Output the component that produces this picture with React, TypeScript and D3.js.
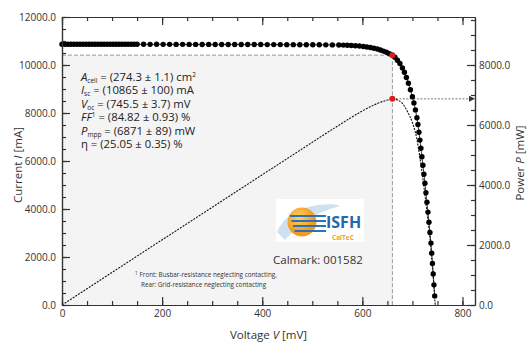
import { useEffect, useRef } from "react";
import * as d3 from "d3";

// IV curve measurement points (mV, mA)
const voltage = [
  0, 6, 12, 18, 24, 30, 36, 42, 48, 54, 60, 66, 72, 78, 84, 90, 96, 102, 108, 114, 120, 126, 132, 138, 144, 150,
  163, 176, 189, 202, 215, 228, 241, 254, 267, 280, 293, 306, 319, 332, 345, 358, 371, 384, 397, 410, 423, 436,
  449, 462, 475, 488, 501, 514, 527, 540, 553,
  562, 570, 578, 586, 594, 602, 609, 616, 623, 630, 636, 642, 648, 654, 660, 665, 670, 675, 680, 684, 688, 692,
  696, 700, 703, 706, 709, 711, 713, 715, 717, 719, 721, 723, 725, 727, 729, 731, 733, 735, 737, 738.5, 740,
  741.5, 743, 744.5,
];
const current = [
  10866, 10865, 10867, 10864, 10866, 10865, 10864, 10866, 10865, 10863, 10865, 10864, 10866, 10864, 10863, 10865,
  10864, 10862, 10864, 10863, 10865, 10863, 10862, 10864, 10862, 10863,
  10862, 10861, 10863, 10860, 10861, 10859, 10860, 10858, 10859, 10857, 10858, 10856, 10857, 10855, 10854, 10855,
  10853, 10852, 10853, 10850, 10851, 10849, 10848, 10847, 10846, 10844, 10843, 10841, 10839, 10837, 10834,
  10830, 10822, 10814, 10804, 10790, 10772, 10752, 10728, 10700, 10665, 10625, 10580, 10530, 10470, 10410, 10320,
  10200, 10060, 9880, 9700, 9480, 9240, 8970, 8680, 8420, 8130, 7800, 7520, 7200, 6870, 6530, 6180, 5820, 5450,
  5070, 4680, 4280, 3870, 3450, 3020, 2580, 2160, 1730, 1290, 840, 380,
];

// power curve (mV, mW)
const powerVoltage = [0, 150, 300, 450, 550, 600, 630, 650, 660, 670, 680, 690, 700, 708, 715, 722, 728, 734, 740, 745.5];
const power = [0, 1629, 3257, 4882, 5959, 6468, 6719, 6831, 6871, 6834, 6718, 6450, 6076, 5600, 4912, 4068, 3261, 2374, 1280, 0];

const mppVoltage = 660;
const mppCurrent = 10410;
const mppPower = 6871;

const voltageTicks = [0, 200, 400, 600, 800];
const currentTicks = [0, 2000, 4000, 6000, 8000, 10000, 12000];
const powerTicks = [0, 2000, 4000, 6000, 8000];

const FONT = "'Open Sans', sans-serif";

export default function App() {
  const svgRef = useRef<SVGSVGElement>(null);

  useEffect(() => {
    if (!svgRef.current) return;
    const width = 528;
    const height = 343;
    const margin = { top: 17, right: 53, bottom: 38, left: 62 };

    const svg = d3.select(svgRef.current);
    svg.selectAll("*").remove();

    const x = d3.scaleLinear().domain([0, 825]).range([margin.left, width - margin.right]);
    const yI = d3.scaleLinear().domain([0, 12000]).range([height - margin.bottom, margin.top]);
    const yP = d3.scaleLinear().domain([0, 9600]).range([height - margin.bottom, margin.top]);

    // shaded region up to MPP
    svg.append("rect")
      .attr("x", x(0))
      .attr("y", yI(mppCurrent))
      .attr("width", x(mppVoltage) - x(0))
      .attr("height", yI(0) - yI(mppCurrent))
      .attr("fill", "#f4f4f4");

    // logo background
    svg.append("rect")
      .attr("x", 276).attr("y", 199).attr("width", 88).attr("height", 43)
      .attr("fill", "#ffffff");

    // MPP guide lines
    svg.append("line")
      .attr("x1", x(0)).attr("x2", x(mppVoltage))
      .attr("y1", yI(mppCurrent)).attr("y2", yI(mppCurrent))
      .attr("stroke", "#9a9a9a").attr("stroke-dasharray", "4,2");
    svg.append("line")
      .attr("x1", x(mppVoltage)).attr("x2", x(mppVoltage))
      .attr("y1", yI(mppCurrent)).attr("y2", yI(0))
      .attr("stroke", "#9a9a9a").attr("stroke-dasharray", "4,2");
    svg.append("line")
      .attr("x1", x(mppVoltage)).attr("x2", x.range()[1] - 4)
      .attr("y1", yP(mppPower)).attr("y2", yP(mppPower))
      .attr("stroke", "#777").attr("stroke-dasharray", "2,1.5");
    const ay = yP(mppPower);
    const ax = x.range()[1];
    svg.append("path")
      .attr("d", `M${ax - 6},${ay - 3}L${ax},${ay}L${ax - 6},${ay + 3}Z`)
      .attr("fill", "#333");

    // power curve
    const powerLine = d3.line<number>()
      .x((d, i) => x(powerVoltage[i]))
      .y(d => yP(d))
      .curve(d3.curveMonotoneX);
    svg.append("path")
      .attr("d", powerLine(power))
      .attr("fill", "none")
      .attr("stroke", "#111")
      .attr("stroke-width", 1.1)
      .attr("stroke-dasharray", "2,1.2");

    // IV curve
    const ivLine = d3.line<number>()
      .x((d, i) => x(voltage[i]))
      .y(d => yI(d));
    svg.append("path")
      .attr("d", ivLine(current))
      .attr("fill", "none")
      .attr("stroke", "#111")
      .attr("stroke-width", 0.8);
    svg.append("g")
      .attr("fill", "#000")
      .selectAll("circle")
      .data(current)
      .join("circle")
      .attr("cx", (d, i) => x(voltage[i]))
      .attr("cy", d => yI(d))
      .attr("r", 2.7);

    // MPP markers
    svg.append("circle").attr("cx", x(mppVoltage)).attr("cy", yI(mppCurrent)).attr("r", 3).attr("fill", "#d42020");
    svg.append("circle").attr("cx", x(mppVoltage)).attr("cy", yP(mppPower)).attr("r", 3).attr("fill", "#d42020");

    // axes
    const styleAxis = (g: d3.Selection<SVGGElement, unknown, null, undefined>) => {
      g.select(".domain").attr("stroke", "#333").attr("stroke-width", 1.2);
      g.selectAll(".tick line").attr("stroke", "#333").attr("stroke-width", 1.2);
      g.selectAll("text").attr("font-family", FONT).attr("font-size", 10).attr("fill", "#333");
    };
    const minorV = d3.range(0, 826, 50);
    const minorI = d3.range(0, 12001, 500);
    const minorP = d3.range(0, 9601, 500);

    svg.append("g")
      .attr("transform", `translate(0,${height - margin.bottom})`)
      .call(d3.axisBottom(x).tickValues(minorV).tickFormat(() => "").tickSizeInner(-4).tickSizeOuter(0))
      .call(styleAxis);
    svg.append("g")
      .attr("transform", `translate(0,${height - margin.bottom})`)
      .call(d3.axisBottom(x).tickValues(voltageTicks).tickFormat(d3.format("d")).tickSizeInner(-8).tickSizeOuter(0).tickPadding(5))
      .call(styleAxis);
    svg.append("g")
      .attr("transform", `translate(0,${margin.top})`)
      .call(d3.axisTop(x).tickValues(minorV).tickFormat(() => "").tickSizeInner(-4).tickSizeOuter(0))
      .call(styleAxis);
    svg.append("g")
      .attr("transform", `translate(0,${margin.top})`)
      .call(d3.axisTop(x).tickValues(voltageTicks).tickFormat(() => "").tickSizeInner(-8).tickSizeOuter(0))
      .call(styleAxis);

    svg.append("g")
      .attr("transform", `translate(${margin.left},0)`)
      .call(d3.axisLeft(yI).tickValues(minorI).tickFormat(() => "").tickSizeInner(-4).tickSizeOuter(0))
      .call(styleAxis);
    svg.append("g")
      .attr("transform", `translate(${margin.left},0)`)
      .call(d3.axisLeft(yI).tickValues(currentTicks).tickFormat(d3.format(".1f")).tickSizeInner(-8).tickSizeOuter(0).tickPadding(6))
      .call(styleAxis);

    svg.append("g")
      .attr("transform", `translate(${width - margin.right},0)`)
      .call(d3.axisRight(yP).tickValues(minorP).tickFormat(() => "").tickSizeInner(-4).tickSizeOuter(0))
      .call(styleAxis);
    svg.append("g")
      .attr("transform", `translate(${width - margin.right},0)`)
      .call(d3.axisRight(yP).tickValues(powerTicks).tickFormat(d3.format(".1f")).tickSizeInner(-8).tickSizeOuter(0).tickPadding(4))
      .call(styleAxis);

    // axis titles
    const title = (t: d3.Selection<SVGTextElement, unknown, null, undefined>, a: string, v: string, b: string) => {
      t.attr("font-family", FONT).attr("font-size", 11.5).attr("fill", "#333").attr("text-anchor", "middle");
      t.append("tspan").text(a);
      t.append("tspan").attr("font-style", "italic").text(v);
      t.append("tspan").text(b);
    };
    svg.append("text")
      .attr("transform", `translate(22,${(margin.top + height - margin.bottom) / 2 + 4}) rotate(-90)`)
      .call(title, "Current ", "I", " [mA]");
    svg.append("text")
      .attr("transform", `translate(524,${(margin.top + height - margin.bottom) / 2 + 2}) rotate(-90)`)
      .call(title, "Power ", "P", " [mW]");
    svg.append("text")
      .attr("x", (margin.left + width - margin.right) / 2)
      .attr("y", 339)
      .call(title, "Voltage ", "V", " [mV]");

    // parameter block
    const lines: [string, string, number, string][] = [
      ["A", "cell", 2, " = (274.3 ± 1.1) cm"],
      ["I", "sc", 2, " = (10865 ± 100) mA"],
      ["V", "oc", 2, " = (745.5 ± 3.7) mV"],
      ["FF", "1", -4, " = (84.82 ± 0.93) %"],
      ["P", "mpp", 2, " = (6871 ± 89) mW"],
      ["", "", 0, "η = (25.05 ± 0.35) %"],
    ];
    lines.forEach(([sym, idx, shift, rest], i) => {
      const t = svg.append("text")
        .attr("x", 81)
        .attr("y", 80.5 + i * 13.5)
        .attr("font-family", FONT)
        .attr("font-size", 11.3)
        .attr("fill", "#222");
      if (sym) t.append("tspan").attr("font-style", "italic").text(sym);
      if (idx) {
        t.append("tspan").attr("font-size", 6.5).attr("dy", shift).text(idx);
        t.append("tspan").attr("dy", -shift).text(rest);
      } else {
        t.append("tspan").text(rest);
      }
      if (i === 0) t.append("tspan").attr("font-size", 6.5).attr("dy", -4).text("2");
    });

    // logo
    const logo = svg.append("g");
    logo.append("path")
      .attr("d", "M277,232 Q286,210 318,205 Q336,203 340,206 Q318,212 304,222 Q292,232 285,240 Z")
      .attr("fill", "#c9def0").attr("opacity", 0.9);
    const grad = svg.append("defs").append("radialGradient").attr("id", "sun").attr("cx", "40%").attr("cy", "35%");
    grad.append("stop").attr("offset", "0%").attr("stop-color", "#ffd36b");
    grad.append("stop").attr("offset", "100%").attr("stop-color", "#f29a1f");
    logo.append("circle").attr("cx", 302).attr("cy", 222).attr("r", 14.5).attr("fill", "url(#sun)");
    [216, 221, 226, 231].forEach((ly, i) => {
      logo.append("line")
        .attr("x1", 290 + i * 1.5).attr("x2", 326)
        .attr("y1", ly).attr("y2", ly)
        .attr("stroke", "#2b73b4").attr("stroke-width", 2);
    });
    logo.append("text")
      .attr("x", 326).attr("y", 228)
      .attr("font-family", FONT).attr("font-weight", 700).attr("font-size", 16)
      .attr("fill", "#2467ad").text("ISFH");
    logo.append("text")
      .attr("x", 332).attr("y", 240)
      .attr("font-family", FONT).attr("font-weight", 700).attr("font-size", 6.5)
      .attr("fill", "#f0a030").text("CalTeC");
    svg.append("text")
      .attr("x", 273).attr("y", 264)
      .attr("font-family", FONT).attr("font-size", 11.5)
      .attr("fill", "#333").text("Calmark: 001582");

    // footnote
    const foot = svg.append("text")
      .attr("x", 135).attr("y", 277)
      .attr("font-family", FONT).attr("font-size", 6.3).attr("fill", "#333");
    foot.append("tspan").attr("font-size", 4.5).attr("dy", -2).text("1");
    foot.append("tspan").attr("dx", 2).attr("dy", 2).text("Front: Busbar-resistance neglecting contacting,");
    svg.append("text")
      .attr("x", 141).attr("y", 287)
      .attr("font-family", FONT).attr("font-size", 6.3).attr("fill", "#333")
      .text("Rear: Grid-resistance neglecting contacting");
  }, []);

  return (
    <div style={{ position: "absolute", left: 0, top: 0 }}>
      <svg ref={svgRef} width={528} height={343} style={{ display: "block", background: "#fff" }} />
    </div>
  );
}
